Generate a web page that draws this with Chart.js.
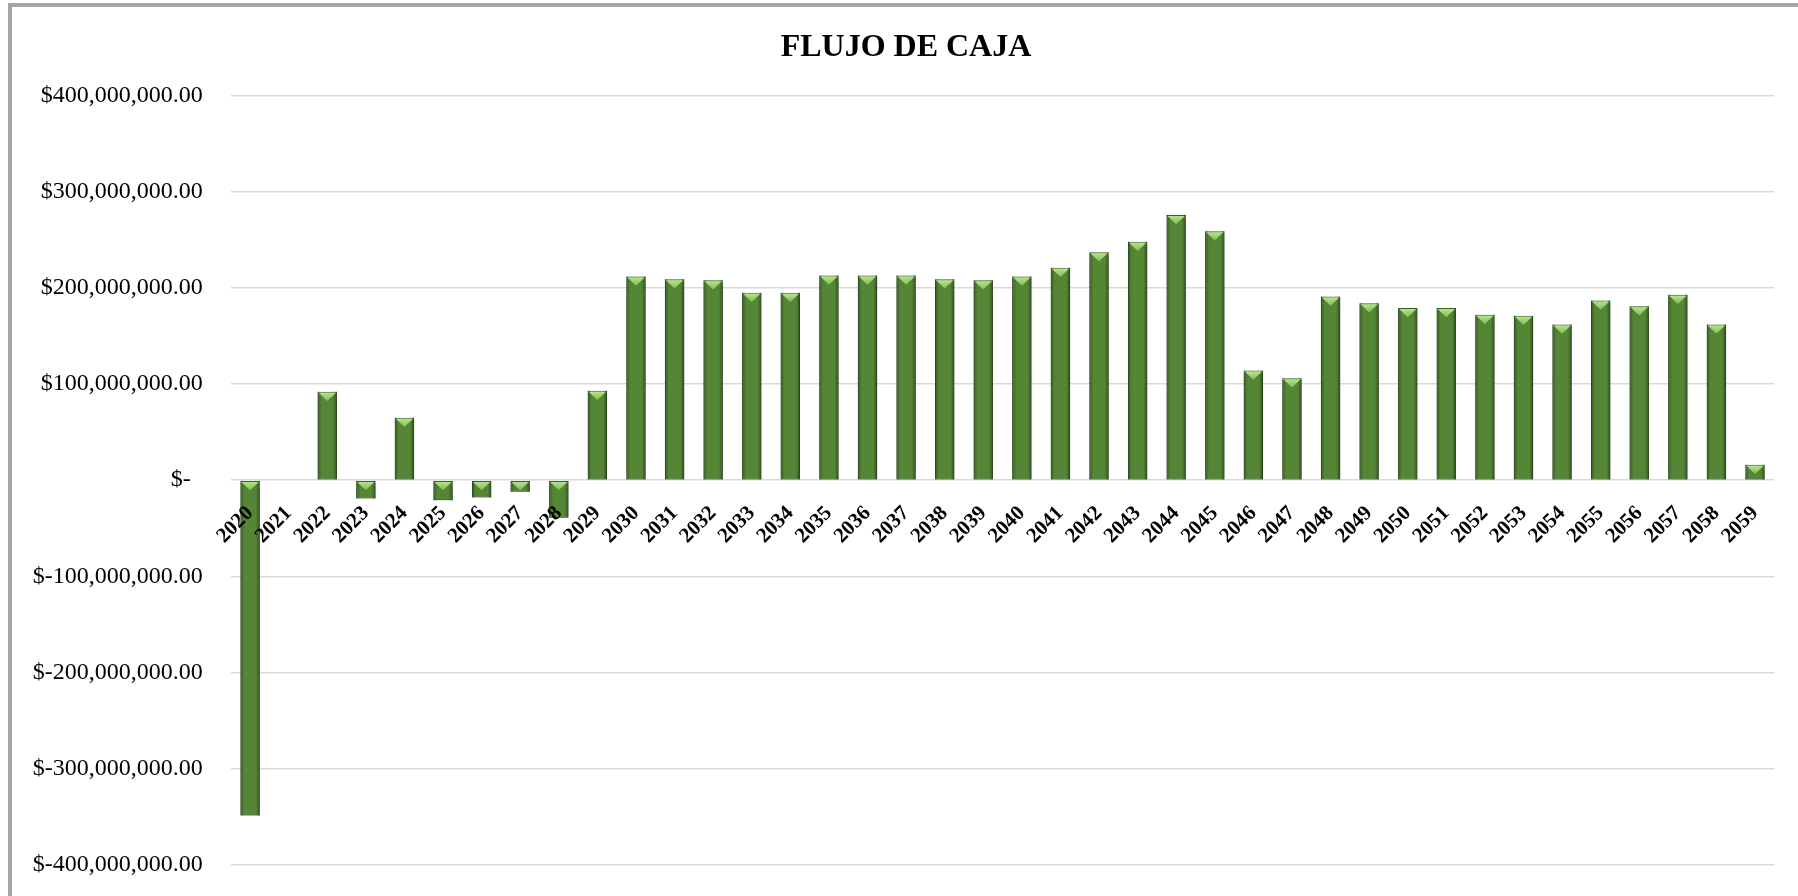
<!DOCTYPE html>
<html lang="es">
<head>
    <meta charset="UTF-8">
    <title>Flujo de caja</title>
    <script src="https://cdn.jsdelivr.net/npm/chart.js"></script>
    <style>
        body {
            margin: 0;
            background: #ffffff;
            overflow: hidden;
        }

        /* marco gris del gráfico (solo se ven borde izquierdo y superior) */
        .marco {
            position: absolute;
            left: 8px;
            top: 3px;
            width: 1900px;
            height: 1000px;
            border-left: 4px solid #a6a6a6;
            border-top: 4px solid #a6a6a6;
        }

        #flujoChart {
            display: block;
        }
    </style>
</head>
<body>
    <div class="marco">
        <canvas id="flujoChart" width="1788" height="900"></canvas>
    </div>

    <script>
        // Datos del gráfico
        const anios = ['2020', '2021', '2022', '2023', '2024', '2025', '2026', '2027', '2028', '2029',
                       '2030', '2031', '2032', '2033', '2034', '2035', '2036', '2037', '2038', '2039',
                       '2040', '2041', '2042', '2043', '2044', '2045', '2046', '2047', '2048', '2049',
                       '2050', '2051', '2052', '2053', '2054', '2055', '2056', '2057', '2058', '2059'];

        const flujo = [-349000000, 0, 92000000, -19000000, 65000000, -21000000, -18000000, -12000000, -39000000, 93000000,
                       212000000, 209000000, 208000000, 195000000, 195000000, 213000000, 213000000, 213000000, 209000000, 208000000,
                       212000000, 221000000, 237000000, 248000000, 276000000, 259000000, 114000000, 106000000, 191000000, 184000000,
                       179000000, 179000000, 172000000, 171000000, 162000000, 187000000, 181000000, 193000000, 162000000, 16000000];

        const ejeMin = -400000000;
        const ejeMax = 400000000;
        const ejePaso = 100000000;

        const fuente = "'Times New Roman', 'Liberation Serif', serif";

        // Formato contable: $400,000,000.00 / $-  / $-300,000,000.00
        function formatoMoneda(v) {
            if (v === 0) return '$-\u2002';
            const txt = Math.abs(v).toLocaleString('en-US', { minimumFractionDigits: 2, maximumFractionDigits: 2 });
            return v < 0 ? '$-' + txt : '$' + txt;
        }

        // Sombra y bisel de las barras (triángulo claro en la parte superior)
        const bisel = {
            id: 'bisel',
            beforeDatasetDraw(chart) {
                const c = chart.ctx;
                c.save();
                c.shadowColor = 'rgba(0, 0, 0, 0.35)';
                c.shadowBlur = 5;
                c.shadowOffsetX = 1;
                c.shadowOffsetY = 3;
            },
            afterDatasetDraw(chart, args) {
                const c = chart.ctx;
                c.restore();
                args.meta.data.forEach(bar => {
                    const { x, y, base, width } = bar.getProps(['x', 'y', 'base', 'width'], true);
                    const top = Math.min(y, base);
                    const bottom = Math.max(y, base);
                    if (bottom - top < 1) return;
                    const l = x - width / 2;
                    const r = x + width / 2;

                    // sombreado de los lados
                    const lados = c.createLinearGradient(l, 0, r, 0);
                    lados.addColorStop(0, 'rgba(28, 50, 14, 0.55)');
                    lados.addColorStop(0.2, 'rgba(28, 50, 14, 0)');
                    lados.addColorStop(0.8, 'rgba(28, 50, 14, 0)');
                    lados.addColorStop(1, 'rgba(28, 50, 14, 0.65)');
                    c.fillStyle = lados;
                    c.fillRect(l, top, width, bottom - top);

                    // triángulo superior
                    const h = Math.min(width * 0.48, bottom - top);
                    const tri = c.createLinearGradient(0, top, 0, top + h);
                    tri.addColorStop(0, '#bce894');
                    tri.addColorStop(1, '#7fbd53');
                    c.beginPath();
                    c.moveTo(l + 1, top + 1);
                    c.lineTo(r - 1, top + 1);
                    c.lineTo(x, top + h);
                    c.closePath();
                    c.fillStyle = tri;
                    c.fill();
                });
            }
        };

        const config = {
            type: 'bar',
            data: {
                labels: anios,
                datasets: [{
                    label: 'Flujo de caja',
                    data: flujo,
                    backgroundColor: '#558636',
                    borderColor: '#3d6426',
                    borderWidth: 1,
                    borderSkipped: false,
                    barPercentage: 0.5,
                    categoryPercentage: 1.0
                }]
            },
            options: {
                responsive: false,
                animation: false,
                layout: {
                    padding: { left: 0, right: 0, top: 0, bottom: 38 }
                },
                scales: {
                    x: {
                        position: { y: 0 },
                        grid: { display: false },
                        border: { display: false },
                        ticks: {
                            z: 1, // etiquetas por encima de las barras
                            autoSkip: false,
                            maxRotation: 45,
                            minRotation: 45,
                            padding: 13,
                            color: '#000000',
                            font: { family: fuente, size: 21, weight: 'bold' }
                        }
                    },
                    y: {
                        min: ejeMin,
                        max: ejeMax,
                        afterFit: (scale) => { scale.width = 218.8; },
                        grid: {
                            color: '#d9d9d9',
                            lineWidth: 1.5,
                            drawTicks: false
                        },
                        border: { display: false },
                        ticks: {
                            stepSize: ejePaso,
                            padding: 28,
                            color: '#000000',
                            font: { family: fuente, size: 24 },
                            callback: (value) => formatoMoneda(value)
                        }
                    },
                    // eje derecho vacío: solo reserva el margen derecho
                    margen: {
                        type: 'linear',
                        position: 'right',
                        min: ejeMin,
                        max: ejeMax,
                        afterFit: (scale) => { scale.width = 25.7; },
                        grid: { display: false },
                        border: { display: false },
                        ticks: { display: false }
                    }
                },
                plugins: {
                    legend: { display: false },
                    tooltip: { enabled: false },
                    title: {
                        display: true,
                        text: 'FLUJO DE CAJA',
                        color: '#000000',
                        font: { family: fuente, size: 32, weight: 'bold' },
                        padding: { top: 21.5, bottom: 28.8 }
                    }
                }
            },
            plugins: [bisel]
        };

        // Crea el gráfico
        const grafico = new Chart(document.getElementById('flujoChart'), config);
    </script>
</body>
</html>
